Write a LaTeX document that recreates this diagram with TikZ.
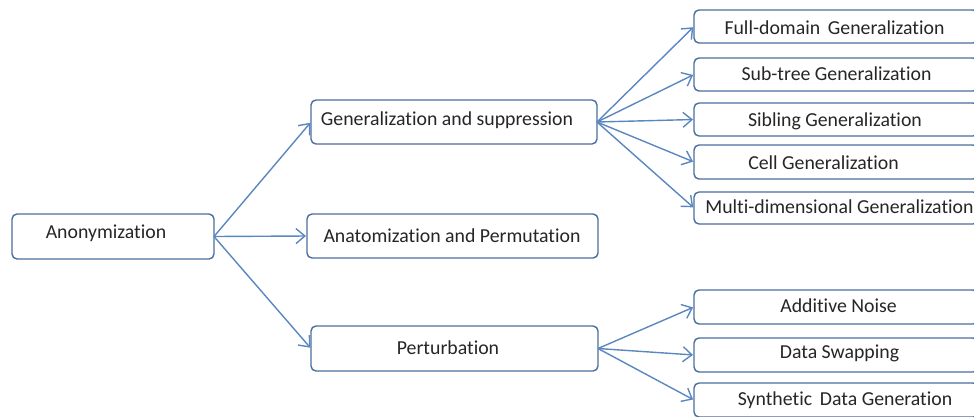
\documentclass[tikz,border=0pt]{standalone}
\usepackage{fontspec}
\setmainfont[Ligatures=NoCommon]{Carlito}
\usetikzlibrary{arrows.meta}
\definecolor{boxcol}{HTML}{4A6E9E}
\definecolor{arrcol}{HTML}{5B87C0}
\tikzset{
  box/.style={draw=boxcol, line width=1.4pt, rounded corners=5pt, inner sep=0pt, outer sep=0pt, fill=white},
  lab/.style={font=\fontsize{19.8}{21}\selectfont, inner sep=0pt, text=black!85},
  conn/.style={draw=arrcol, line width=1.4pt, -{Straight Barb[length=9pt,width=15pt,line width=1.4pt]}, shorten >=1pt},
}
\begin{document}
\begin{tikzpicture}[x=1pt,y=-1pt]
\useasboundingbox (0,0) rectangle (974,416);
\clip (0,0) rectangle (974,416);
% boxes
\node[box, minimum width=202pt, minimum height=45pt] (anon) at (113,236.5) {};
\node[box, minimum width=286pt, minimum height=44pt] (gen) at (454,122) {};
\node[box, minimum width=291pt, minimum height=44pt] (anat) at (452.5,236) {};
\node[box, minimum width=287pt, minimum height=45pt] (pert) at (454.5,348.5) {};
\node[box, minimum width=284pt, minimum height=33pt] (full) at (836,26.5) {};
\node[box, minimum width=284pt, minimum height=33pt] (sub) at (836,74.5) {};
\node[box, minimum width=284pt, minimum height=33pt] (sib) at (836,119.5) {};
\node[box, minimum width=284pt, minimum height=34pt] (cell) at (836,162) {};
\node[box, minimum width=284pt, minimum height=32pt] (multi) at (836,208) {};
\node[box, minimum width=284pt, minimum height=34pt] (add) at (836,307) {};
\node[box, minimum width=284pt, minimum height=34pt] (swap) at (836,355) {};
\node[box, minimum width=284pt, minimum height=34pt] (synth) at (836,400) {};
% labels
\node[lab] (tanon) at (106,233) {Anonymization};
\node[lab] (tgen) at (447,120) {Generalization and suppression};
\node[lab] (tanat) at (452,236) {Anatomization and Permutation};
\node[lab] (tpert) at (448,348) {Perturbation};
\node[lab] (tfull) at (834.5,28) {Full-domain\, Generalization};
\node[lab] (tsub) at (836.5,74) {Sub-tree Generalization};
\node[lab] (tsib) at (835,121) {Sibling Generalization};
\node[lab] (tcell) at (823.5,163) {Cell Generalization};
\node[lab] (tmulti) at (839.5,207) {Multi-dimensional Generalization};
\node[lab] (tadd) at (838.5,306) {Additive Noise};
\node[lab] (tswap) at (839.5,353) {Data Swapping};
\node[lab] (tsynth) at (845,400) {Synthetic\, Data Generation};
% connectors
\draw[conn] (anon.east) -- (gen.west);
\draw[conn] (anon.east) -- (anat.west);
\draw[conn] (anon.east) -- (pert.west);
\draw[conn] (gen.east) -- (full.west);
\draw[conn] (gen.east) -- (sub.west);
\draw[conn] (gen.east) -- (sib.west);
\draw[conn] (gen.east) -- (cell.west);
\draw[conn] (gen.east) -- (multi.west);
\draw[conn] (pert.east) -- (add.west);
\draw[conn] (pert.east) -- (swap.west);
\draw[conn] (pert.east) -- (synth.west);
\end{tikzpicture}
\end{document}
